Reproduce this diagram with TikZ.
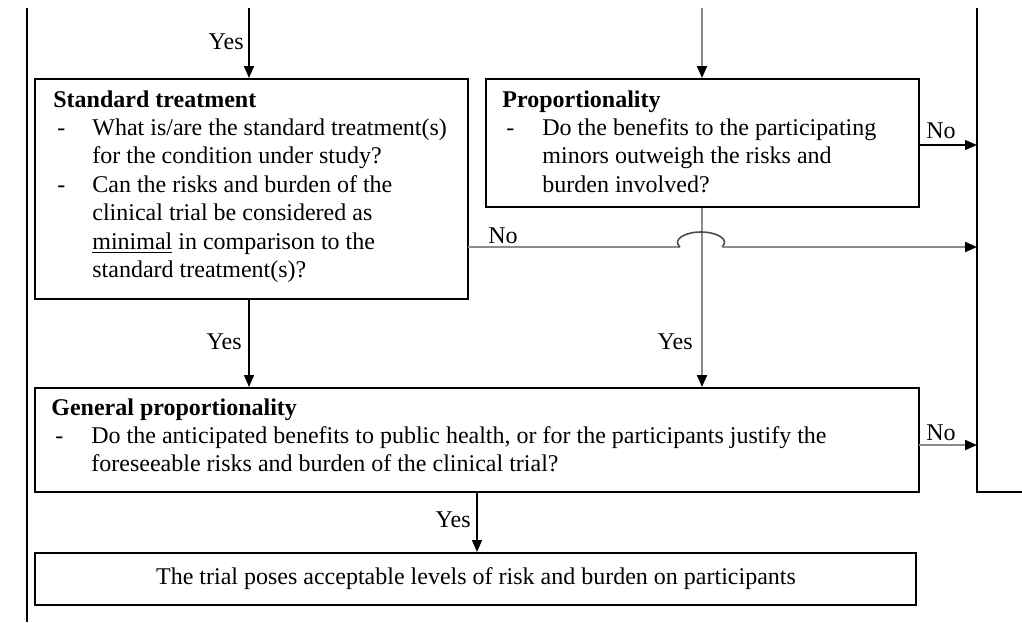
\documentclass[tikz,border=0pt]{standalone}
\usepackage{fontspec}
\setmainfont{Liberation Serif}
\usetikzlibrary{arrows.meta,fit}
\newcommand{\bitem}[1]{\makebox[#1][l]{\hspace{2pt}-}}
\begin{document}
\begin{tikzpicture}[x=0.5pt,y=-0.5pt,
  box/.style={draw=black,line width=1pt,inner sep=0pt},
  txt/.style={inner sep=0pt,anchor=north west,align=left,font=\fontsize{12pt}{14.2pt}\selectfont},
  lbl/.style={inner sep=0pt,font=\fontsize{12pt}{14pt}\selectfont},
  blk/.style={draw=black,line width=0.7pt},
  gry/.style={draw=black!45,line width=1pt},
  arr/.style={-{Triangle[length=6pt,width=5pt,black]}}]
\useasboundingbox (0,0) rectangle (1022,622);
% frame lines
\coordinate (lt) at (27,8);
\coordinate (lb) at (27,622);
\coordinate (rt) at (977,8);
\coordinate (rb) at (977,492);
\coordinate (re) at (1022,492);
\draw[blk,line width=1pt] (lt) -- (lb);
\draw[blk,line width=1pt] (rt) -- (rb) -- (re);
% boxes
\node[box,fit={(35,79) (468,299)}] (std) {};
\node[box,fit={(486,79) (919,207)}] (prop) {};
\node[box,fit={(35,388) (919,492)}] (gen) {};
\node[box,fit={(35,553) (916,605)}] (fin) {};
% texts
\node[txt] (stdt) at (53,90) {\textbf{Standard treatment}\\
\bitem{19.5pt}What is/are the standard treatment(s)\\
\hspace*{19.5pt}for the condition under study?\\
\bitem{19.5pt}Can the risks and burden of the\\
\hspace*{19.5pt}clinical trial be considered as\\
\hspace*{19.5pt}\underline{minimal} in comparison to the\\
\hspace*{19.5pt}standard treatment(s)?};
\node[txt] (propt) at (502,90) {\textbf{Proportionality}\\
\bitem{20pt}Do the benefits to the participating\\
\hspace*{20pt}minors outweigh the risks and\\
\hspace*{20pt}burden involved?};
\node[txt] (gent) at (51,398) {\textbf{General proportionality}\\
\bitem{20pt}Do the anticipated benefits to public health, or for the participants justify the\\
\hspace*{20pt}foreseeable risks and burden of the clinical trial?};
\node[lbl] (fint) at (476,579) {The trial poses acceptable levels of risk and burden on participants};
% connectors
\coordinate (a1) at (249,8);
\draw[blk,arr] (a1) -- (a1 |- std.north);
\node[lbl,anchor=east] (y1) at (244,42) {Yes};
\coordinate (a2) at (702,8);
\draw[gry,arr] (a2) -- (a2 |- prop.north);
\coordinate (p1) at (prop.south -| a2);
\draw[gry,arr] (p1) -- (p1 |- gen.north);
\node[lbl,anchor=east] (y3) at (693,342) {Yes};
\coordinate (s1) at (249,299);
\draw[blk,arr] (s1) -- (s1 |- gen.north);
\node[lbl,anchor=east] (y2) at (242,342) {Yes};
\coordinate (g1) at (477,492);
\draw[blk,arr] (g1) -- (g1 |- fin.north);
\node[lbl,anchor=east] (y4) at (471,520) {Yes};
% No from proportionality
\coordinate (n1) at (919,145);
\draw[blk,arr] (n1) -- (n1 -| rt);
\node[lbl] (no1) at (941,131) {No};
% No from general
\coordinate (n2) at (919,445);
\draw[gry,arr] (n2) -- (n2 -| rt);
\node[lbl] (no3) at (941,433) {No};
% No from standard with hop
\coordinate (h0) at (468,247);
\coordinate (h1) at (680,247);
\coordinate (h2) at (722,247);
\draw[gry] (h0) -- (h1);
\draw[draw=black!70,line width=0.8pt] (h1) .. controls (672,240) and (684,232) .. (701,232) .. controls (718,232) and (730,240) .. (h2);
\draw[gry,arr] (h2) -- (h2 -| rt);
\node[lbl] (no2) at (503,236) {No};
\end{tikzpicture}
\end{document}
